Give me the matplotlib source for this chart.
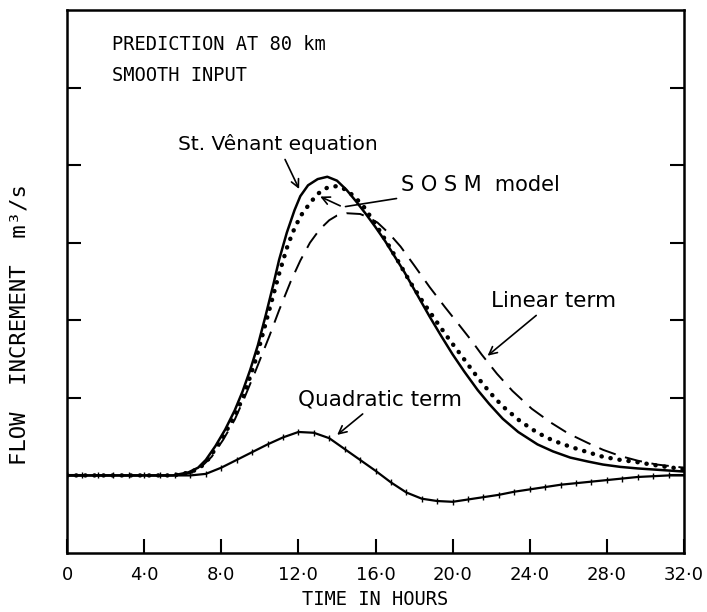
import numpy as np
import matplotlib
matplotlib.use('Agg')
import matplotlib.pyplot as plt

# flow increment (plot units) vs time in hours
t_venant = [0, 5.5, 6.3, 6.8, 7.2, 7.7, 8.2, 8.7, 9.1, 9.5, 9.9, 10.3, 10.7, 11.0, 11.4,
            11.8, 12.1, 12.5, 13.0, 13.5, 14.0, 14.5, 15.0, 15.5, 16.0, 16.5, 17.0, 17.5,
            18.0, 18.8, 19.4, 20.0, 20.6, 21.3, 21.9, 22.6, 23.4, 24.4, 25.2, 26.1, 27.0,
            27.8, 28.7, 29.6, 30.8, 32]
q_venant = [0, 0, 0.04, 0.1, 0.2, 0.38, 0.59, 0.84, 1.08, 1.36, 1.68, 2.06, 2.46, 2.78, 3.13,
            3.42, 3.60, 3.74, 3.82, 3.85, 3.80, 3.68, 3.53, 3.37, 3.20, 3.02, 2.82, 2.62,
            2.40, 2.05, 1.80, 1.56, 1.34, 1.10, 0.92, 0.73, 0.56, 0.40, 0.31, 0.23, 0.18,
            0.14, 0.11, 0.09, 0.07, 0.05]

t_sosm = [0, 5.5, 6.4, 6.9, 7.3, 7.8, 8.3, 8.8, 9.2, 9.8, 10.4, 11.0, 11.4, 11.7, 12.1,
          12.6, 13.0, 13.5, 14.0, 14.5, 15.0, 15.4, 16.0, 16.6, 17.2, 17.8, 18.5, 19.2,
          19.8, 20.5, 21.0, 21.5, 22.0, 22.6, 23.5, 24.4, 25.2, 26.1, 27.0, 27.8, 28.7,
          29.6, 30.8, 32]
q_sosm = [0, 0, 0.04, 0.1, 0.2, 0.38, 0.59, 0.82, 1.05, 1.50, 2.05, 2.60, 2.93, 3.13, 3.34,
          3.51, 3.63, 3.71, 3.73, 3.68, 3.57, 3.46, 3.24, 3.00, 2.75, 2.49, 2.22, 1.97,
          1.76, 1.53, 1.36, 1.20, 1.05, 0.89, 0.70, 0.55, 0.45, 0.37, 0.30, 0.24, 0.20,
          0.17, 0.12, 0.08]

t_linear = [0, 5.5, 6.6, 7.0, 7.5, 8.1, 8.7, 9.2, 9.75, 10.5, 11.0, 11.6, 12.1, 12.6, 13.1,
            13.6, 14.0, 14.5, 15.2, 15.6, 16.1, 16.7, 17.3, 18.0, 18.8, 19.6, 20.4, 21.0,
            21.5, 22.3, 23.1, 24.1, 25.1, 26.0, 27.0, 27.8, 28.7, 29.6, 30.6, 32]
q_linear = [0, 0, 0.04, 0.12, 0.24, 0.46, 0.72, 1.0, 1.33, 1.80, 2.13, 2.50, 2.77, 3.0, 3.17,
            3.29, 3.35, 3.38, 3.37, 3.33, 3.26, 3.12, 2.95, 2.71, 2.43, 2.17, 1.92, 1.73,
            1.56, 1.31, 1.09, 0.86, 0.68, 0.54, 0.42, 0.33, 0.25, 0.19, 0.14, 0.10]

t_quad = [0, 0.8, 1.6, 2.4, 3.2, 4.0, 4.8, 5.6, 6.4, 7.2, 8.0, 8.8, 9.6, 10.4, 11.2,
          12.0, 12.8, 13.6, 14.4, 15.2, 16.0, 16.8, 17.6, 18.4, 19.2, 20.0, 20.8, 21.6,
          22.4, 23.2, 24.0, 24.8, 25.6, 26.4, 27.2, 28.0, 28.8, 29.6, 30.4, 31.2, 32.0]
q_quad = [0, 0, 0, 0, 0, 0, 0, 0, 0, 0.02, 0.10, 0.20, 0.30, 0.40, 0.49,
          0.56, 0.55, 0.48, 0.34, 0.20, 0.06, -0.09, -0.22, -0.30, -0.33, -0.34, -0.31, -0.28,
          -0.25, -0.21, -0.18, -0.15, -0.12, -0.10, -0.08, -0.06, -0.04, -0.02, -0.01, 0.0, 0.0]

xticks = [0, 4, 8, 12, 16, 20, 24, 28, 32]
xlabels = ["0", "4·0", "8·0", "12·0", "16·0", "20·0", "24·0", "28·0", "32·0"]
yticks = [0, 1, 2, 3, 4, 5]

plt.rcParams['font.family'] = ['DejaVu Sans']
caps = ['DejaVu Sans Mono']  # spaced-out lettering for the capitals

fig = plt.figure(figsize=(7.07, 6.12), dpi=100)
ax = fig.add_axes([0.0948, 0.0964, 0.8727, 0.8873])

ax.plot(t_venant, q_venant, color='black', lw=1.8)
ax.plot(t_sosm, q_sosm, color='black', lw=3.2, linestyle=(0, (0.05, 2.0)),
        dash_capstyle='round')
ax.plot(t_linear, q_linear, color='black', lw=1.4, linestyle=(0, (9, 5)))
ax.plot(t_quad, q_quad, color='black', lw=1.6, marker='|', markersize=4.5, mew=1)

ax.set_xlim(0, 32)
ax.set_ylim(-1, 6)
ax.set_xticks(xticks)
ax.set_xticklabels(xlabels, fontsize=13)
ax.set_yticks(yticks)
ax.set_yticklabels([])
ax.tick_params(axis='x', direction='in', length=10, width=1.5, pad=9)
ax.tick_params(axis='y', direction='in', length=10, width=1.5, right=True)
for s in ax.spines.values():
    s.set_linewidth(1.8)

ax.set_xlabel("TIME IN HOURS", fontsize=13.5, family=caps, labelpad=5)
fig.text(0.027, 0.47, "FLOW  INCREMENT  m³/s", rotation=90, fontsize=16,
         family=caps, ha='center', va='center')

ax.text(2.35, 5.55, "PREDICTION AT 80 km", fontsize=13.5, family=caps, va='center')
ax.text(2.35, 5.15, "SMOOTH INPUT", fontsize=13.5, family=caps, va='center')

arrow = dict(arrowstyle='->', color='black', lw=1.2, mutation_scale=14)
ax.annotate("St. Vênant equation", xy=(12.1, 3.66), xytext=(5.75, 4.27),
            fontsize=14.5, va='center', arrowprops=arrow)
ax.annotate("", xy=(13.0, 3.61), xytext=(14.3, 3.46), arrowprops=arrow)
ax.annotate("S O S M  model", xy=(14.3, 3.46), xytext=(17.3, 3.74),
            fontsize=15, va='center',
            arrowprops=dict(arrowstyle='-', color='black', lw=1.2))
ax.annotate("Linear term", xy=(21.7, 1.52), xytext=(22.0, 2.25),
            fontsize=15.5, va='center', arrowprops=arrow)
ax.annotate("Quadratic term", xy=(13.9, 0.50), xytext=(12.0, 0.98),
            fontsize=15.5, va='center', arrowprops=arrow)

plt.savefig("out.png", dpi=100)
plt.close()
